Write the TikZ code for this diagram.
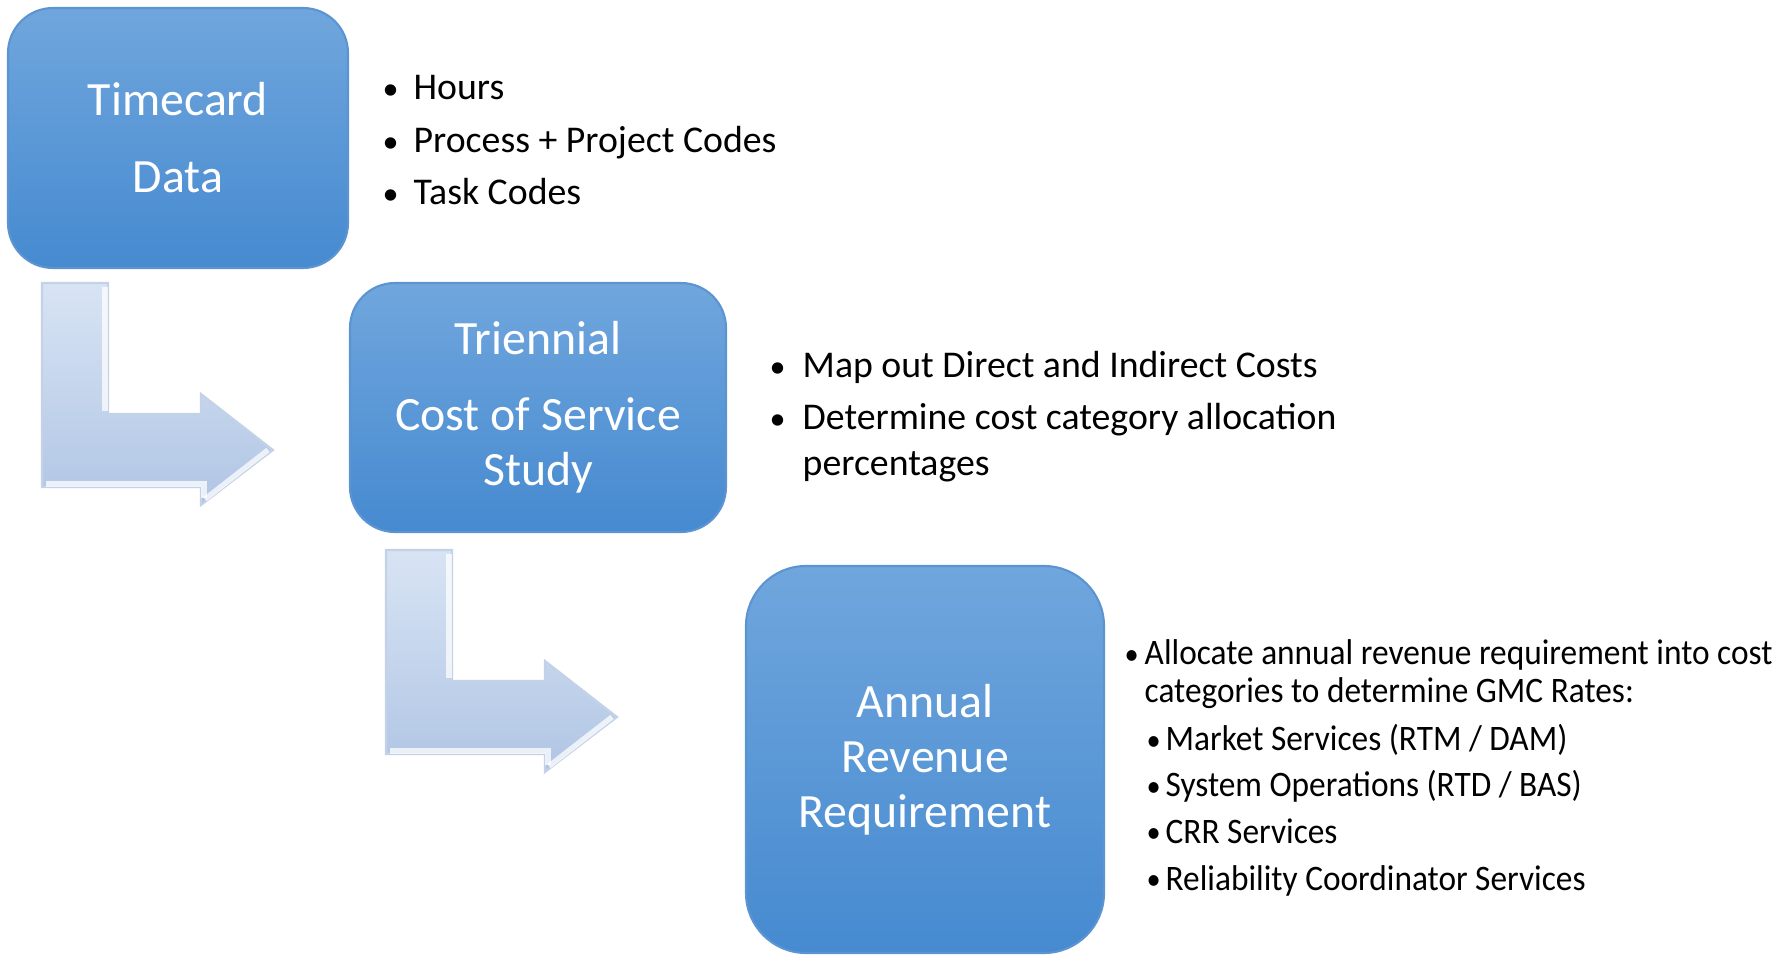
\documentclass[tikz,border=0pt]{standalone}
\usepackage{fontspec}
\setmainfont{Carlito}
\newfontfamily\condfont{Carlito}[FakeStretch=0.93]
\usepackage{tikz}
\definecolor{boxTop}{RGB}{112,166,221}
\definecolor{boxBot}{RGB}{70,138,208}
\definecolor{boxEdge}{RGB}{92,148,210}
\definecolor{arrTop}{RGB}{216,228,244}
\definecolor{arrBot}{RGB}{176,197,228}
\definecolor{arrEdge}{RGB}{196,210,232}
\tikzset{
  stage/.style={rounded corners=0.45cm, top color=boxTop, bottom color=boxBot,
    draw=boxEdge, line width=0.6pt, text=white, align=center, inner sep=0pt,
    font=\fontsize{13.6}{15.6}\selectfont},
  bentarrow/.style={top color=arrTop, bottom color=arrBot, draw=arrEdge, line width=0.6pt},
  bevel/.style={white, line width=1.5pt, opacity=0.75},
  item/.style={anchor=base west, inner sep=0pt, font=\fontsize{10.75}{12}\selectfont},
  subitem/.style={anchor=base west, inner sep=0pt, font=\condfont\fontsize{10.2}{11}\selectfont}
}
\newcommand{\bul}[1]{\makebox[#1][l]{\scalebox{0.85}{\textbullet}}}

\begin{document}
\begin{tikzpicture}
  \useasboundingbox (0,0) rectangle (17.83,9.55);

  % Bent arrows between the stages
  \foreach \ox/\oy in {0.42/4.68, 3.86/2.01} {
    \begin{scope}[shift={(\ox,\oy)}]
      \draw[bentarrow] (0,2.04) -- (0.66,2.04) -- (0.66,0.73) -- (1.59,0.73)
        -- (1.59,0.93) -- (2.31,0.37) -- (1.59,-0.18) -- (1.59,0) -- (0,0) -- cycle;
      % light bevel edges
      \draw[bevel] (0.63,2.0) -- (0.63,0.76);
      \draw[bevel] (0.04,0.03) -- (1.62,0.03) -- (1.62,-0.11);
      \draw[bevel] (1.63,-0.12) -- (2.26,0.37);
    \end{scope}
  }

  % Stages
  \node[stage, minimum width=3.40cm, minimum height=2.60cm] (timecard)
    at (1.78,8.17) {Timecard\\[0.22cm]Data};
  \node[stage, minimum width=3.76cm, minimum height=2.49cm] (study)
    at (5.38,5.475) {Triennial\\[0.21cm]Cost of Service\\Study};
  \node[stage, rounded corners=0.6cm, minimum width=3.58cm, minimum height=3.87cm] (arr)
    at (9.25,1.955) {Annual\\Revenue\\Requirement};

  % Timecard items
  \foreach \y/\t [count=\i] in {8.55/Hours, 8.02/Process + Project Codes, 7.50/Task Codes}
    \node[item] (tc\i) at (3.82,\y) {\bul{0.31cm}\t};

  % Study items
  \node[item] (cs1) at (7.69,5.77) {\bul{0.33cm}Map out Direct and Indirect Costs};
  \node[item] (cs2) at (7.69,5.25) {\bul{0.33cm}Determine cost category allocation};
  \node[item] (cs3) at (8.02,4.79) {percentages};

  % Revenue requirement items
  \node[subitem] (rr1) at (11.24,2.90) {\bul{0.20cm}Allocate annual revenue requirement into cost};
  \node[subitem] (rr2) at (11.44,2.52) {categories to determine GMC Rates:};
  \foreach \y/\t [count=\i from 3] in {2.04/{Market Services (RTM / DAM)},
      1.58/{System Operations (RTD / BAS)}, 1.12/CRR Services,
      0.65/Reliability Coordinator Services}
    \node[subitem] (rr\i) at (11.46,\y) {\bul{0.19cm}\t};
\end{tikzpicture}
\end{document}
